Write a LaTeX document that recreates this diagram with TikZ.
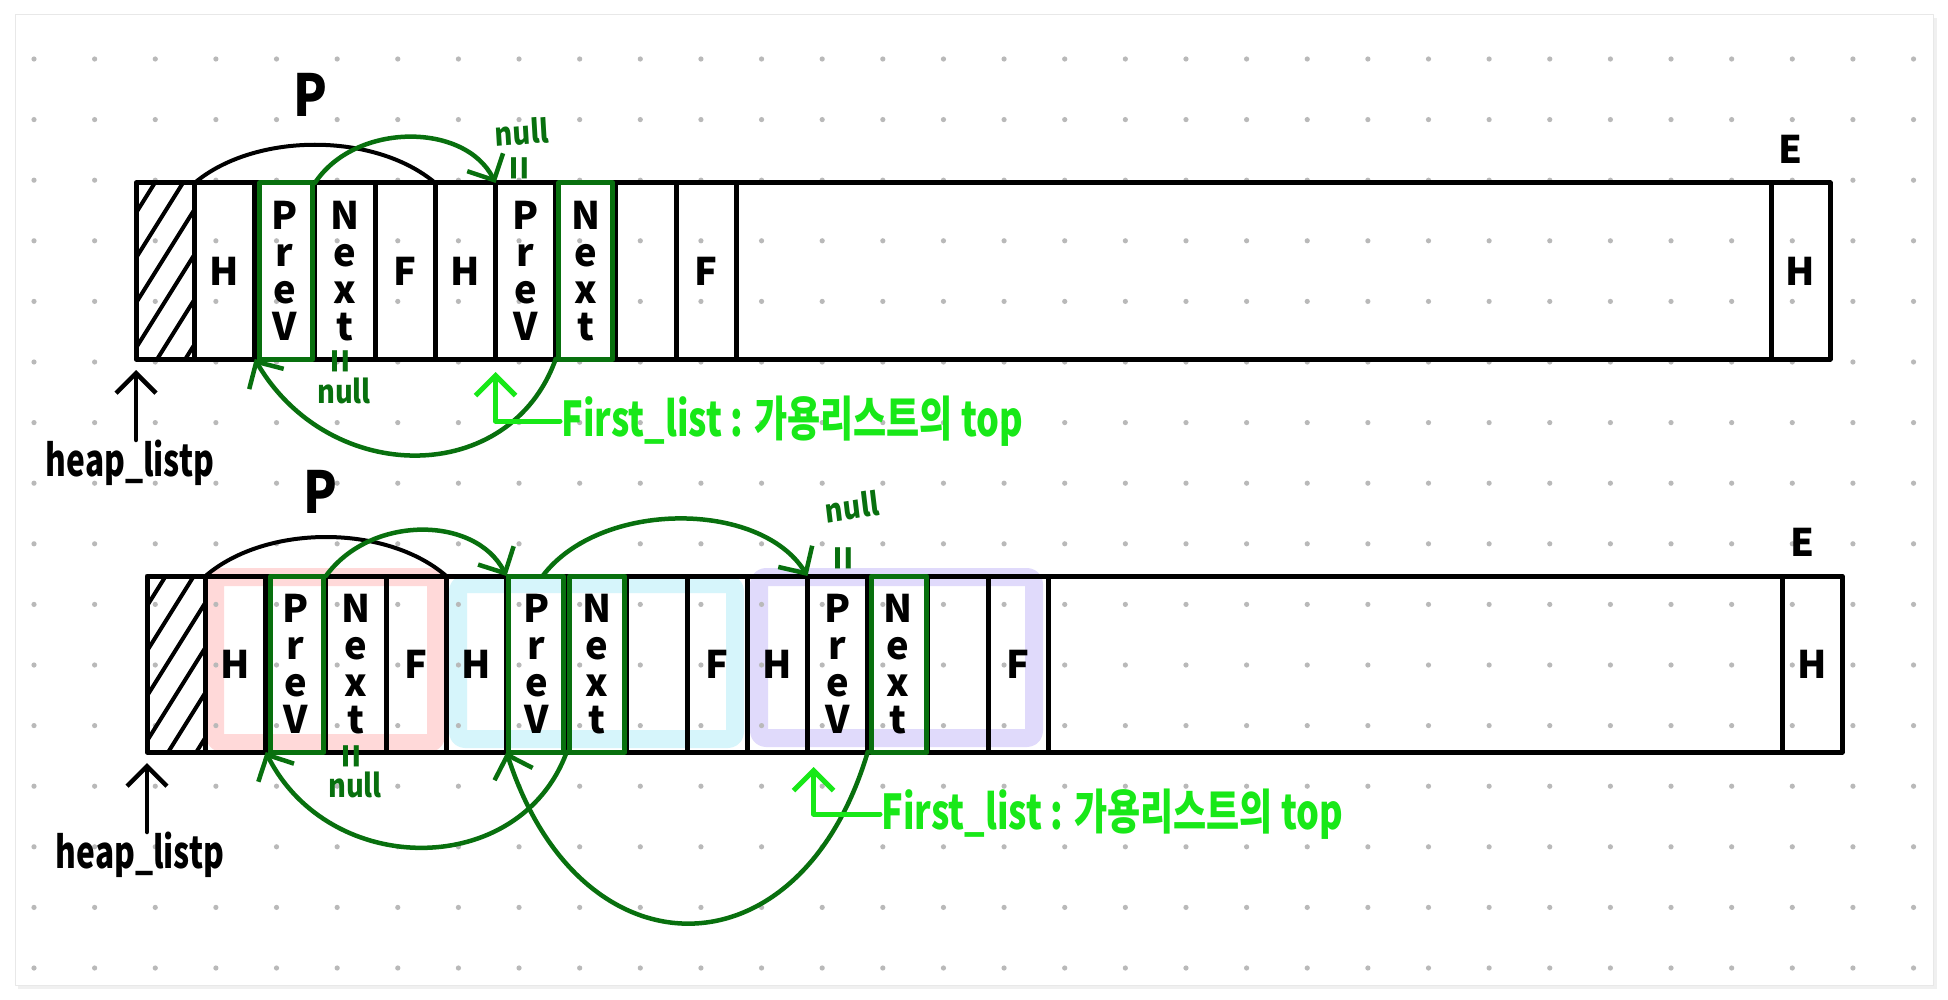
\documentclass[tikz,border=0pt]{standalone}
\usepackage{fontspec}
\setmainfont{Noto Sans CJK KR}
\usetikzlibrary{positioning, arrows.meta}
\definecolor{ptrgreen}{RGB}{8,112,14}
\definecolor{topgreen}{RGB}{24,232,24}
\definecolor{blockred}{RGB}{255,217,217}
\definecolor{blockcyan}{RGB}{214,245,251}
\definecolor{blockviolet}{RGB}{224,218,251}
\definecolor{griddot}{RGB}{185,185,185}
\tikzset{
  cell/.style={draw, line width=5pt, minimum width=60.2pt, minimum height=176pt, inner sep=0pt, outer sep=0pt, align=center, font=\fontsize{38}{37}\selectfont\bfseries},
  hatch/.style={line width=4pt},
  listbox/.style={draw=ptrgreen, line width=5pt},
  blockmark/.style={line width=18pt, rounded corners=7pt},
  sizearc/.style={line width=4pt},
  link/.style={ptrgreen, line width=4.5pt, -{Straight Barb[length=20pt, width=40pt]}},
  nulltxt/.style={text=ptrgreen, inner sep=0pt, xscale=0.85, font=\fontsize{32}{32}\selectfont\bfseries},
  eqtxt/.style={text=ptrgreen, inner sep=0pt, font=\fontsize{40}{40}\selectfont\bfseries},
  firstlabel/.style={text=topgreen, inner sep=2pt, xscale=0.75, font=\fontsize{48}{48}\selectfont\bfseries},
  firstptr/.style={topgreen, line width=5pt, -{Straight Barb[length=20pt, width=40pt]}},
  heaplabel/.style={inner sep=0pt, xscale=0.72, font=\fontsize{44}{44}\selectfont\bfseries},
  heapptr/.style={line width=4.5pt, -{Straight Barb[length=20pt, width=40pt]}},
  plabel/.style={inner sep=0pt, xscale=0.85, font=\fontsize{58}{58}\selectfont\bfseries},
  elabel/.style={inner sep=0pt, font=\fontsize{38}{38}\selectfont\bfseries},
}
\begin{document}
\begin{tikzpicture}[x=1pt, y=-1pt, line join=round, line cap=round]
\useasboundingbox (0,0) rectangle (1948,1000);
% paper
\fill[white] (0,0) rectangle (1948,1000);
\fill[gray!12] (18,18) rectangle (1937,989);
\filldraw[fill=white, draw=gray!18, line width=1pt] (15,15) rectangle (1933,985);
% block marks (lower row)
\draw[blockmark, blockred] (215,577) rectangle (436,743);
\draw[blockmark, blockcyan] (458,584) rectangle (735,739);
\draw[blockmark, blockviolet] (759,577) rectangle (1034,738);
% dot grid
\foreach \i in {0,...,31}
  \foreach \j in {0,...,15}
    \fill[griddot] ({34+60.63*\i},{59+60.6*\j}) circle (2.6pt);

% ---------- upper heap ----------
\node[cell, minimum width=58.5pt, anchor=north west] (t0) at (136,183) {};
\node[cell, right=0pt of t0] (t1) {H};
\node[cell, right=0pt of t1] (t2) {P\\r\\e\\V};
\node[cell, right=0pt of t2] (t3) {N\\e\\x\\t};
\node[cell, right=0pt of t3] (t4) {F};
\node[cell, right=0pt of t4] (t5) {H};
\node[cell, right=0pt of t5] (t6) {P\\r\\e\\V};
\node[cell, right=0pt of t6] (t7) {N\\e\\x\\t};
\node[cell, right=0pt of t7] (t8) {};
\node[cell, right=0pt of t8] (t9) {F};
\node[cell, minimum width=1034.7pt, right=0pt of t9] (t10) {};
\node[cell, minimum width=59pt, right=0pt of t10] (t11) {H};
\begin{scope}
  \clip (t0.south west) rectangle (t0.north east);
  \foreach \k in {0,...,6}
    \draw[hatch] ([yshift={-30pt-\k*45pt}]t0.north west) -- ++(80,-128);
\end{scope}
\draw[listbox] ([xshift=5pt]t2.north west) rectangle ([xshift=-2pt]t2.south east);
\draw[listbox] ([xshift=3pt]t7.north west) rectangle ([xshift=-3pt]t7.south east);
% size of p and links
\draw[sizearc] (t1.north west) .. controls (255,132) and (375,132) .. (t5.north west);
\node[plabel] (tp) at (310,95) {P};
\draw[link] (t3.north west) .. controls (355,122) and (465,122) .. (t6.north west);
\draw[link] (t7.south west) .. controls (510,487) and (330,487) .. (t2.south west);
\node[nulltxt, rotate=4] (tnullprev) at (522,132) {null};
\node[eqtxt, rotate=90] (teqprev) at (523,168) {=};
\node[eqtxt, rotate=90] (teqnext) at (344,361) {=};
\node[nulltxt] (tnullnext) at (344,391) {null};
\node[elabel, above=19pt of t11.north, xshift=-10pt] (te) {E};
% pointers
\node[heaplabel, anchor=north] (theap) at (130,440) {heap\_listp};
\draw[heapptr] (theap.north -| t0.south west) -- ([yshift=-11pt]t0.south west);
\node[firstlabel, anchor=west] (tfirst) at (560,421) {First\_list : 가용리스트의 top};
\coordinate (ttip) at ([yshift=-13pt]t6.south west);
\draw[firstptr] (tfirst.west) -- (ttip |- tfirst.west) -- (ttip);

% ---------- lower heap ----------
\node[cell, minimum width=58.5pt, anchor=north west] (b0) at (147,576) {};
\node[cell, right=0pt of b0] (b1) {H};
\node[cell, right=0pt of b1] (b2) {P\\r\\e\\V};
\node[cell, right=0pt of b2] (b3) {N\\e\\x\\t};
\node[cell, right=0pt of b3] (b4) {F};
\node[cell, right=0pt of b4] (b5) {H};
\node[cell, right=0pt of b5] (b6) {P\\r\\e\\V};
\node[cell, right=0pt of b6] (b7) {N\\e\\x\\t};
\node[cell, right=0pt of b7] (b8) {};
\node[cell, right=0pt of b8] (b9) {F};
\node[cell, right=0pt of b9] (b10) {H};
\node[cell, right=0pt of b10] (b11) {P\\r\\e\\V};
\node[cell, right=0pt of b11] (b12) {N\\e\\x\\t};
\node[cell, right=0pt of b12] (b13) {};
\node[cell, right=0pt of b13] (b14) {F};
\node[cell, minimum width=733.7pt, right=0pt of b14] (b15) {};
\node[cell, minimum width=60pt, right=0pt of b15] (b16) {H};
\begin{scope}
  \clip (b0.south west) rectangle (b0.north east);
  \foreach \k in {0,...,6}
    \draw[hatch] ([yshift={-30pt-\k*45pt}]b0.north west) -- ++(80,-128);
\end{scope}
\draw[listbox] ([xshift=5pt]b2.north west) rectangle ([xshift=-2pt]b2.south east);
\draw[listbox] ([xshift=2pt]b6.north west) rectangle ([xshift=-3pt]b6.south east);
\draw[listbox] ([xshift=3pt]b7.north west) rectangle ([xshift=-2pt]b7.south east);
\draw[listbox] ([xshift=4pt]b12.north west) rectangle ([xshift=-1pt]b12.south east);
% size of p and links
\draw[sizearc] (b1.north west) .. controls (266,524) and (386,524) .. (b5.north west);
\node[plabel] (bp) at (320,492) {P};
\draw[link] (b3.north west) .. controls (370,515) and (475,515) .. (b6.north west);
\coordinate (bstart) at ([xshift=6pt]b6.north);
\draw[link] (bstart) .. controls (600,500) and (760,500) .. (b11.north west);
\draw[link] (b7.south west) .. controls (520,879) and (330,879) .. (b2.south west);
\draw[link] (b12.south west) .. controls (800,980) and (580,980) .. (b6.south west);
\node[nulltxt, rotate=8] (bnullprev) at (852,507) {null};
\node[eqtxt, rotate=90] (beqprev) at (847,558) {=};
\node[eqtxt, rotate=90] (beqnext) at (355,756) {=};
\node[nulltxt] (bnullnext) at (355,785) {null};
\node[elabel, above=19pt of b16.north, xshift=-10pt] (be) {E};
% pointers
\node[heaplabel, anchor=north] (bheap) at (140,832) {heap\_listp};
\draw[heapptr] (bheap.north -| b0.south west) -- ([yshift=-11pt]b0.south west);
\node[firstlabel, anchor=west] (bfirst) at (880,814) {First\_list : 가용리스트의 top};
\coordinate (btip) at ([xshift=6pt, yshift=-15pt]b11.south west);
\draw[firstptr] (bfirst.west) -- (btip |- bfirst.west) -- (btip);
\end{tikzpicture}
\end{document}
